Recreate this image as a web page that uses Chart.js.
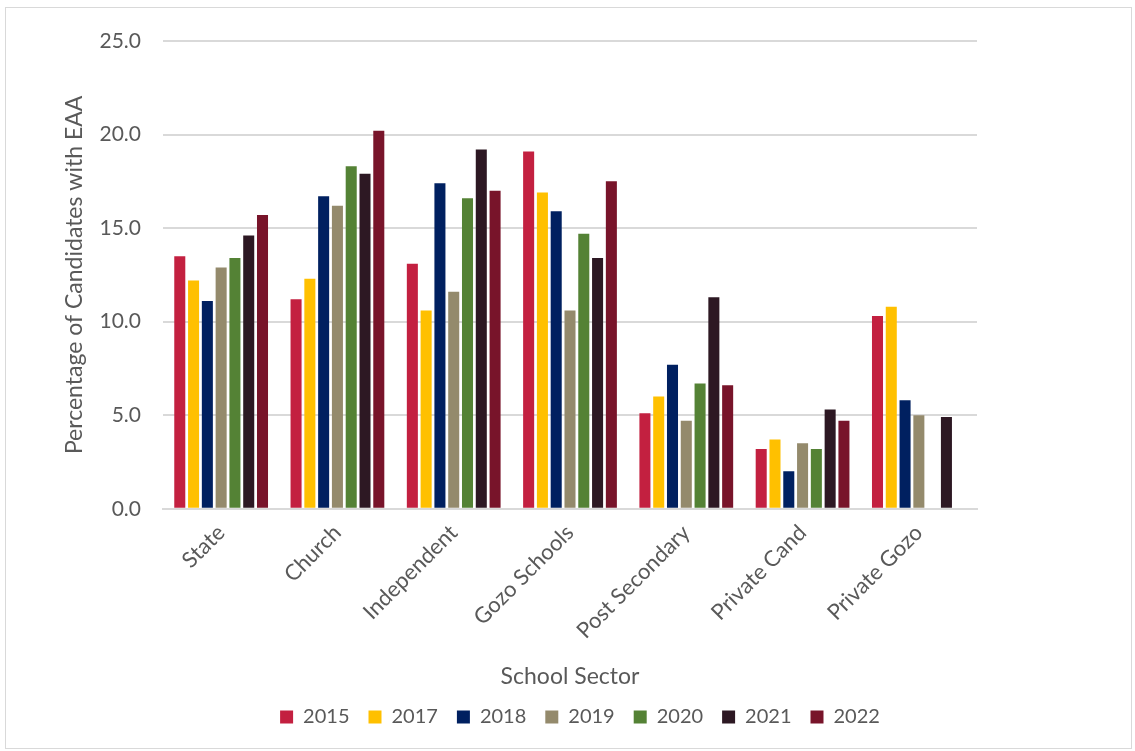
<!DOCTYPE html>
<html>
<head>
<meta charset="utf-8">
<script src="https://cdn.jsdelivr.net/npm/chart.js@4.4.1/dist/chart.umd.min.js"></script>
<style>
  body { margin: 0; background: #fff; }
  #box { position: absolute; left: 5px; top: 7px; width: 1125px; height: 740px; border: 1px solid #d9d9d9; }
</style>
</head>
<body>
<div id="box"><canvas id="chart" width="1125" height="740"></canvas></div>
<script>
// school sectors along the x axis
const sectors = ['State', 'Church', 'Independent', 'Gozo Schools', 'Post Secondary', 'Private Cand', 'Private Gozo']

// percentage of candidates with EAA, one list per year
const y2015 = [13.5, 11.2, 13.1, 19.1, 5.1, 3.2, 10.3]
const y2017 = [12.2, 12.3, 10.6, 16.9, 6.0, 3.7, 10.8]
const y2018 = [11.1, 16.7, 17.4, 15.9, 7.7, 2.0, 5.8]
const y2019 = [12.9, 16.2, 11.6, 10.6, 4.7, 3.5, 5.0]
const y2020 = [13.4, 18.3, 16.6, 14.7, 6.7, 3.2, null]
const y2021 = [14.6, 17.9, 19.2, 13.4, 11.3, 5.3, 4.9]
const y2022 = [15.7, 20.2, 17.0, 17.5, 6.6, 4.7, null]

const years = ['2015', '2017', '2018', '2019', '2020', '2021', '2022']
const colours = ['#c32040', '#ffc000', '#002060', '#948a6c', '#548235', '#2d1823', '#78142a']
const series = [y2015, y2017, y2018, y2019, y2020, y2021, y2022]

const font = "Lato, 'Open Sans', sans-serif"
const grey = '#595959'

// nudge the legend a little to the right, like the original
const legendShift = {
  id: 'legendShift',
  afterLayout (chart) {
    chart.legend.left += 10
    chart.legend.right += 10
  }
}

document.addEventListener('DOMContentLoaded', () => {
  const datasets = years.map((year, i) => ({
    label: year,
    data: series[i],
    backgroundColor: colours[i],
    barPercentage: 0.8,
    categoryPercentage: 0.83
  }))

  new Chart(document.getElementById('chart'), {
    type: 'bar',
    data: { labels: sectors, datasets },
    plugins: [legendShift],
    options: {
      responsive: false,
      animation: false,
      layout: { autoPadding: false, padding: { top: 33, right: 154, bottom: 11, left: 55 } },
      plugins: {
        legend: {
          position: 'bottom',
          fullSize: false,
          labels: {
            color: grey,
            boxWidth: 13,
            boxHeight: 13,
            padding: 19,
            font: { family: font, size: 20 }
          }
        },
        tooltip: { enabled: false }
      },
      scales: {
        x: {
          afterFit: (scale) => { scale.paddingLeft = 0 },
          grid: { display: false },
          border: { color: '#d9d9d9', width: 2 },
          ticks: {
            color: grey,
            minRotation: 45,
            maxRotation: 45,
            font: { family: font, size: 22 }
          },
          title: {
            display: true,
            text: 'School Sector',
            color: grey,
            padding: { top: 18, bottom: 0 },
            font: { family: font, size: 23, lineHeight: 1 }
          }
        },
        y: {
          min: 0,
          max: 25,
          afterFit: (scale) => {
            scale.width = 102
            scale.paddingTop = 0
          },
          border: { display: false },
          grid: { color: '#d9d9d9', lineWidth: 2, drawTicks: false },
          ticks: {
            stepSize: 5,
            color: grey,
            padding: 22,
            font: { family: font, size: 21 },
            callback: (v) => v.toFixed(1)
          },
          title: {
            display: true,
            text: 'Percentage of Candidates with EAA',
            color: grey,
            padding: { top: 0, bottom: 9 },
            font: { family: font, size: 23 }
          }
        }
      }
    }
  })
})
</script>
</body>
</html>
